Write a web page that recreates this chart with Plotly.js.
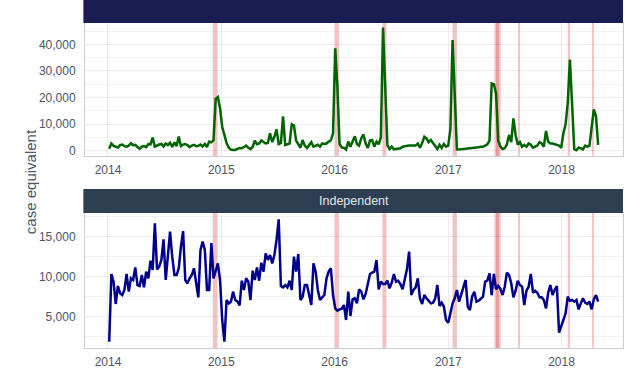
<!DOCTYPE html>
<html>
<head>
<meta charset="utf-8">
<script src="https://cdn.plot.ly/plotly-3.0.1.min.js"></script>
<style>html,body{margin:0;padding:0;background:#fff;}#chart{width:636px;height:375px;}</style>
</head>
<body>
<div id="chart"></div>
<script>
// Weekly series, first week 2014-01-05
const startWeek = '2014-01-05';
const panelTitles = ['', 'Independent'];
const yTitle = 'case equivalent';

// top panel (green) weekly case equivalent
const topValues = [
  800, 2800, 1900, 1500, 1300, 2200, 2400, 1800, 1600, 2000,
  2900, 2200, 2300, 1500, 900, 1600, 1800, 1400, 2600, 2500,
  5000, 1600, 2100, 2400, 2600, 1700, 2800, 2200, 3100, 1500,
  3200, 1800, 5400, 1800, 2400, 2600, 2200, 1400, 2000, 2300,
  1800, 1900, 2400, 1700, 2600, 1500, 3500, 3200, 4000, 19500,
  20200, 16000,
  9000, 5500, 3000, 1200, 500, 400, 400, 800, 1100, 1000,
  1600, 2000, 1200, 700, 1500, 3900, 2500, 2800, 3900, 3200,
  2800, 3000, 6600, 3300, 5300, 8100, 2600, 3000, 13000, 2200,
  2600, 2800, 10000, 9500, 3900, 2500, 1200, 4100, 2000, 1100,
  2200, 3300, 1600, 2000, 2300, 1600, 2800, 2600, 2800, 3500,
  4000, 6600, 38500, 24000, 2600, 1300,
  1200, 500, 3500, 1600, 3900, 5500, 2600, 2000, 4800, 6200,
  2800, 1100, 3900, 4100, 1600, 3500, 2500, 5000, 46300, 24000,
  2200, 700, 1600, 600, 800, 1000, 1000, 1600, 1800, 2000,
  2000, 2000, 2000, 2000, 2800, 1200, 3000, 5300, 4700, 3300,
  4100, 3000, 2200, 700, 2300, 1100, 2600, 1600, 2000, 8100,
  41600, 20000, 600,
  500, 600, 500, 600, 800, 900, 1000, 1100, 1200, 1400,
  1600, 1600, 2000, 2500, 3900, 25300, 25000, 21600, 3900, 1600,
  700, 1000, 2500, 6000, 3300, 12200, 6000, 2300, 3300, 1600,
  2300, 1600, 2800, 2300, 1200, 1500, 2000, 3300, 2800, 1600,
  7500, 3500, 2800, 2800, 2500, 2200, 2000, 1200, 6600, 10000,
  18000, 34300, 15000, 700, 300, 1200, 1000, 600, 2000, 1600,
  2000, 8100, 15600, 13000, 2300
];

// bottom panel (Independent) weekly case equivalent
const independentValues = [
  1880, 10340, 9380, 6590, 8840, 7920, 7710, 8340, 10340, 8130,
  9800, 9590, 11170, 8960, 8840, 10210, 8670, 10630, 9800, 12000,
  10840, 16670, 10920, 11250, 12090, 14670, 9590, 12500, 15630, 12500,
  10210, 10210, 11050, 13750, 15700, 9590, 9170, 9800, 10210, 11050,
  8960, 7420, 13340, 14380, 13340, 8340, 8340, 14200, 9800, 10630,
  11670, 9590, 4590, 1880,
  7090, 6670, 6880, 8130, 7090, 6900, 6400, 9500, 8340, 9800,
  9380, 7090, 10750, 9590, 11170, 9500, 11750, 10630, 12920, 12090,
  12710, 11670, 12710, 14590, 17170, 8840, 8670, 8960, 8670, 9500,
  8340, 12500, 10630, 12840, 7090, 7500, 8960, 8960, 7500, 6460,
  11670, 10630, 8340, 7090, 7420, 7710, 9800, 10630, 11050, 7710,
  6040, 5750, 5920, 6000,
  6460, 4590, 8130, 5090, 7170, 7300, 6670, 8420, 8130, 7170,
  7840, 9090, 10340, 10500, 10630, 12090, 8420, 9380, 9090, 9090,
  9500, 8540, 9250, 10340, 9380, 9500, 9090, 8420, 9800, 10920,
  13130, 7710, 8340, 8670, 9800, 7300, 6590, 7710, 7300, 7000,
  6670, 6750, 7250, 8960, 6340, 6750, 6250, 4590, 4250, 5420,
  6670, 7300, 8340, 6880, 7710, 8840,
  9590, 6250, 5840, 7500, 8130, 6880, 7000, 7250, 7500, 9380,
  9500, 10420, 7710, 10340, 8420, 8840, 8500, 7710, 8750, 10500,
  10210, 9170, 7420, 8250, 9500, 8960, 8750, 6460, 8250, 8750,
  10340, 8000, 8250, 8000, 7420, 7420, 7090, 6040, 8000, 8960,
  7710, 8340, 8840, 3000, 3840, 4590, 5420, 7500, 7000, 7090,
  6880, 7090, 5920, 6670, 7300, 6750, 6590, 6880, 5920, 7170,
  7710, 6880
];

// highlighted periods (start, end)
const bandStarts = ['2014-12-05','2016-01-02','2016-06-03','2017-01-15','2017-05-30','2017-06-04','2017-08-14','2018-01-21','2018-04-09'];
const bandEnds   = ['2014-12-20','2016-01-15','2016-06-16','2017-01-29','2017-06-13','2017-06-19','2017-08-20','2018-01-28','2018-04-15'];

const topTicks = [0, 10000, 20000, 30000, 40000];
const indTicks = [5000, 10000, 15000];

const WEEK = 7 * 24 * 3600 * 1000;
const traces = [
  {x0: startWeek, dx: WEEK, y: topValues, type: 'scatter', mode: 'lines',
   line: {color: '#006400', width: 2.5}, xaxis: 'x', yaxis: 'y', hoverinfo: 'skip'},
  {x0: startWeek, dx: WEEK, y: independentValues, type: 'scatter', mode: 'lines',
   line: {color: '#00008b', width: 2.5}, xaxis: 'x2', yaxis: 'y2', hoverinfo: 'skip'}
];

const topDom = [0.5517, 0.9339];
const botDom = [0, 0.3879];
const yTopRange = [-1900, 48000];
const yBotRange = [1090, 17960];

const shapes = [];
bandStarts.forEach((s, i) => {
  shapes.push({type: 'rect', xref: 'x', yref: 'y', x0: s, x1: bandEnds[i],
    y0: yTopRange[0], y1: yTopRange[1], layer: 'between',
    fillcolor: 'rgba(218,72,72,0.33)', line: {width: 0}});
  shapes.push({type: 'rect', xref: 'x2', yref: 'y2', x0: s, x1: bandEnds[i],
    y0: yBotRange[0], y1: yBotRange[1], layer: 'between',
    fillcolor: 'rgba(218,72,72,0.33)', line: {width: 0}});
});
// facet strips
shapes.push({type: 'rect', xref: 'paper', yref: 'paper', x0: -0.003, x1: 1, y0: topDom[1], y1: 1.01,
  fillcolor: '#1a1d52', line: {width: 0}, layer: 'above'});
shapes.push({type: 'rect', xref: 'paper', yref: 'paper', x0: -0.003, x1: 1, y0: 0.3879, y1: 0.4569,
  fillcolor: '#2d3e50', line: {width: 0}, layer: 'above'});

const xCommon = {
  type: 'date', range: ['2013-10-19', '2018-07-18'],
  tick0: '2014-01-01', dtick: 'M12', tickformat: '%Y',
  showgrid: true, gridcolor: '#ebebeb', gridwidth: 1,
  showline: true, linecolor: '#c9ced5', linewidth: 1, mirror: true,
  zeroline: false, ticks: 'outside', ticklen: 3, tickcolor: 'rgba(0,0,0,0)',
  tickfont: {size: 12, color: '#4a5566'}, fixedrange: true
};
const yCommon = {
  tickformat: ',d', showgrid: true, gridcolor: '#ebebeb', gridwidth: 1,
  showline: true, linecolor: '#c9ced5', linewidth: 1, mirror: true,
  zeroline: false, ticks: 'outside', ticklen: 6, tickcolor: 'rgba(0,0,0,0)',
  tickfont: {size: 12, color: '#4a5566'}, fixedrange: true
};

const layout = {
  width: 636, height: 375,
  margin: {l: 85, r: 13, t: 0, b: 27},
  paper_bgcolor: '#ffffff', plot_bgcolor: '#ffffff',
  showlegend: false,
  font: {family: 'Liberation Sans, Arial, sans-serif', size: 12, color: '#4a5566'},
  xaxis: Object.assign({}, xCommon, {anchor: 'y', domain: [0, 1]}),
  xaxis2: Object.assign({}, xCommon, {anchor: 'y2', domain: [0, 1]}),
  yaxis: Object.assign({}, yCommon, {domain: topDom, anchor: 'x', range: yTopRange,
    tickvals: topTicks,
    minor: {tickvals: [5000, 15000, 25000, 35000, 45000], showgrid: true, gridcolor: '#f2f2f2'}}),
  yaxis2: Object.assign({}, yCommon, {domain: botDom, anchor: 'x2', range: yBotRange,
    tickvals: indTicks,
    minor: {tickvals: [2500, 7500, 12500, 17500], showgrid: true, gridcolor: '#f2f2f2'}}),
  shapes: shapes,
  annotations: [
    {text: panelTitles[1], xref: 'paper', yref: 'paper', x: 0.5, y: (0.3879 + 0.4569) / 2,
     xanchor: 'center', yanchor: 'middle', showarrow: false,
     font: {size: 12.5, color: '#e4e7ea'}},
    {text: yTitle, xref: 'paper', yref: 'paper', x: -0.102, y: 0.477, textangle: -90,
     xanchor: 'center', yanchor: 'middle', showarrow: false,
     font: {size: 15, color: '#4d5566'}}
  ]
};

Plotly.newPlot('chart', traces, layout, {displayModeBar: false, staticPlot: true});
</script>
</body>
</html>
